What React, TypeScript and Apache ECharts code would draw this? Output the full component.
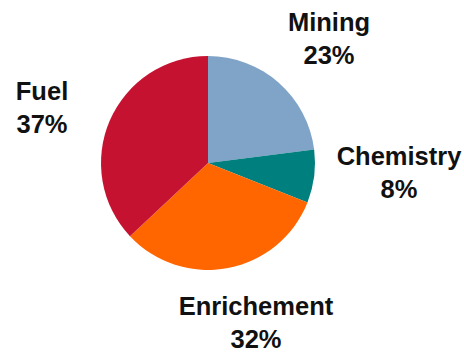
import React, { useEffect, useRef } from "react";
import * as echarts from "echarts";

const categories = ["Mining", "Chemistry", "Enrichement", "Fuel"];
const shares = [23, 8, 32, 37];
const colors = ["#80A4C7", "#007F7F", "#FF6600", "#C41230"];
const labelPositions: [number, number][] = [
  [329, 38],
  [399, 172],
  [256, 322],
  [42, 107],
];

export default function App() {
  const ref = useRef<HTMLDivElement>(null);
  useEffect(() => {
    document.body.style.margin = "0";
    const chart = echarts.init(ref.current!, null, { renderer: "svg" });
    chart.setOption({
      animation: false,
      backgroundColor: "#ffffff",
      series: [
        {
          type: "pie",
          center: [208, 163],
          radius: 107,
          startAngle: 90,
          clockwise: true,
          data: categories.map((name, i) => ({
            name,
            value: shares[i],
            itemStyle: { color: colors[i] },
          })),
          label: {
            show: true,
            position: "outside",
            formatter: (p: any) => `${p.name}\n${p.value}%`,
            fontFamily: "Liberation Sans, Arial, sans-serif",
            fontWeight: "bold",
            fontSize: 25.5,
            lineHeight: 33,
            color: "#111111",
            align: "center",
            overflow: "none",
            width: 200,
          },
          labelLine: { show: false },
          labelLayout: (params: any) => ({
            x: labelPositions[params.dataIndex][0],
            y: labelPositions[params.dataIndex][1],
            align: "center",
            verticalAlign: "middle",
          }),
          emphasis: { disabled: true },
        },
      ],
    });
    return () => chart.dispose();
  }, []);
  return <div ref={ref} style={{ width: 464, height: 355 }} />;
}
